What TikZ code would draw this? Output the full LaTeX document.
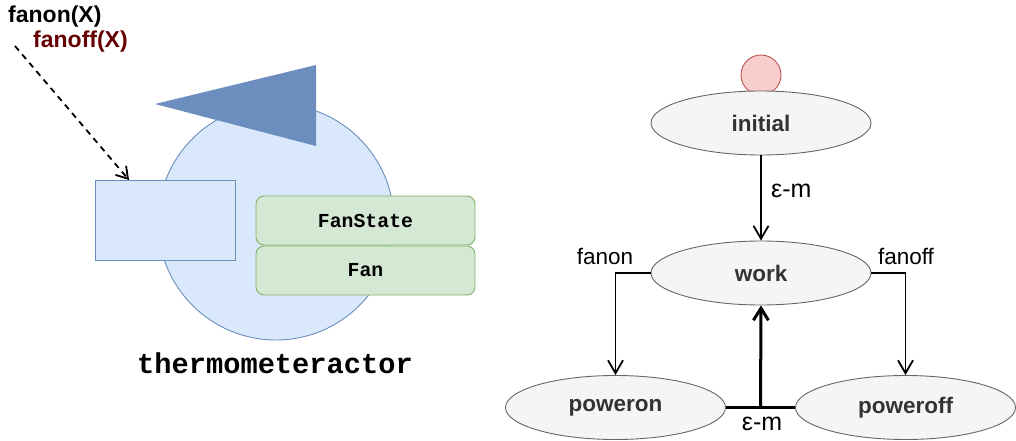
\documentclass[tikz,border=0pt]{standalone}
\usepackage{fontspec}
\setmainfont{Liberation Sans}
\setmonofont{Liberation Mono}
\usetikzlibrary{arrows.meta,shapes.geometric,calc}
\definecolor{bfill}{HTML}{DAE8FC}
\definecolor{bdraw}{HTML}{6C8EBF}
\definecolor{gfill}{HTML}{D5E8D4}
\definecolor{gdraw}{HTML}{82B366}
\definecolor{rfill}{HTML}{F8CECC}
\definecolor{rdraw}{HTML}{B85450}
\definecolor{sfill}{HTML}{F5F5F5}
\definecolor{sdraw}{HTML}{666666}
\definecolor{stext}{HTML}{333333}
\definecolor{darkred}{HTML}{660000}
\begin{document}
\begin{tikzpicture}[x=1pt,y=-1pt,
  bluebox/.style={fill=bfill,draw=bdraw,line width=0.9pt},
  greenbox/.style={fill=gfill,draw=gdraw,line width=0.9pt,rounded corners=8pt,minimum width=219pt,minimum height=49pt,inner sep=0pt,font=\fontsize{19.8}{22}\ttfamily\bfseries},
  state/.style={ellipse,fill=sfill,draw=sdraw,line width=0.9pt,minimum width=220pt,minimum height=64pt,inner sep=0pt,text=stext,font=\fontsize{22.5}{26}\selectfont\bfseries},
  lbl/.style={font=\fontsize{22.5}{26}\selectfont,inner sep=0pt},
  elbl/.style={font=\fontsize{25}{28}\selectfont,inner sep=0pt},
  arr/.style={draw,line width=1.8pt,-{Straight Barb[length=13pt,width=15pt,line width=1.8pt]}},
  thickarr/.style={draw,line width=3pt,-{Straight Barb[length=12pt,width=15pt,line width=3pt]}}
]
\useasboundingbox (0,0) rectangle (1016,441);
% left part
\node[circle,bluebox,minimum size=236pt,inner sep=0pt] (body) at (276,222) {};
\path[fill=bdraw] (155,104) -- (316,65) -- (316,146) -- cycle;
\node[bluebox,minimum width=140pt,minimum height=80pt,inner sep=0pt] (port) at (165,220) {};
\node[greenbox] (fanstate) at (365.5,220.5) {FanState};
\node[greenbox] (fan) at (365.5,270.5) {Fan};
\node[font=\fontsize{28.7}{32}\ttfamily\bfseries,inner sep=0pt] (title) at (275,363) {thermometeractor};
\node[font=\fontsize{23}{26}\selectfont\bfseries,anchor=west,inner sep=0pt] (lon) at (8,17) {fanon(X)};
\node[font=\fontsize{23}{26}\selectfont\bfseries,anchor=west,inner sep=0pt,text=darkred] (loff) at (33,42) {fanoff(X)};
\coordinate (dstart) at (15,46);
\coordinate (dend) at (129,180);
\draw[line width=1.8pt,dash pattern=on 6pt off 5pt,-{Straight Barb[length=11pt,width=14pt,line width=1.8pt]}] (dstart) -- (dend);
% right part
\node[circle,fill=rfill,draw=rdraw,line width=0.9pt,minimum size=40pt,inner sep=0pt] (start) at (761,75) {};
\node[state] (initial) at (761,123) {initial};
\node[state] (work) at (761,273) {work};
\node[state] (poweron) at (615.5,407.5) {poweron};
\node[state] (poweroff) at (905.5,407.5) {poweroff};
\draw[arr] (initial.south) -- (work.north);
\node[elbl,anchor=west] (l1) at (771,191) {ε-m};
\draw[arr] (work.west) -| (poweron.north);
\node[lbl] (l2) at (605,256) {fanon};
\draw[arr] (work.east) -| (poweroff.north);
\node[lbl] (l3) at (906,256) {fanoff};
\draw[line width=3pt] (poweron.east) -- (poweroff.west);
\coordinate (mid) at ($(poweron.east)!0.5!(poweroff.west)$);
\draw[thickarr] (mid) -- (work.south);
\node[elbl] (l4) at (762,424) {ε-m};
\end{tikzpicture}
\end{document}
